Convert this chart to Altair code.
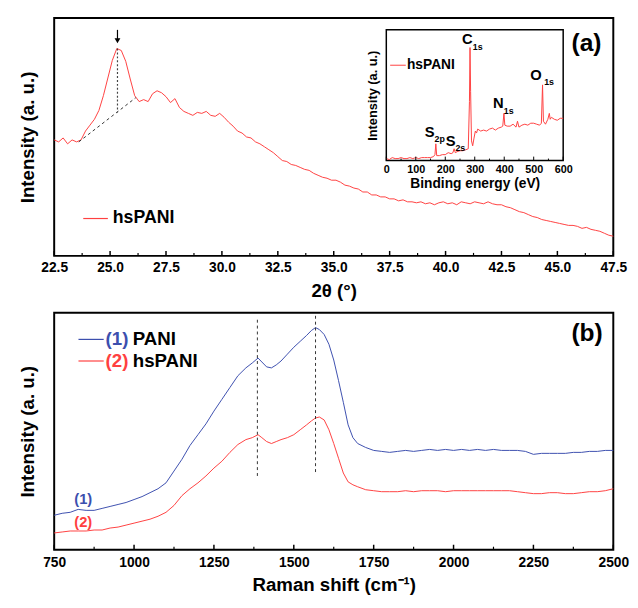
import altair as alt
import pandas as pd

FONT = "Liberation Sans"
RED = "#ff4040"
BLUE = "#3c4fae"
W, H1, H2 = 569, 242, 241

# ---------------- (a) XRD main curve ----------------
xrd_2theta = [22.5, 22.7, 22.9, 23.1, 23.3, 23.5, 23.7, 23.9, 24.1, 24.3, 24.5, 24.7, 24.9,
              25.1, 25.3, 25.5, 25.7, 25.9, 26.1, 26.3, 26.5, 26.7, 26.9, 27.1, 27.3, 27.5,
              27.7, 27.9, 28.1, 28.3, 28.5, 28.7, 28.9, 29.1, 29.3, 29.5, 29.7, 29.9, 30.1,
              30.3, 30.5, 30.7, 30.9, 31.1, 31.3, 31.5, 31.7, 31.9, 32.1, 32.3, 32.5, 32.7,
              32.9, 33.1, 33.3, 33.5, 33.7, 33.9, 34.1, 34.3, 34.5, 34.7, 34.9, 35.1, 35.3,
              35.5, 35.7, 35.9, 36.1, 36.3, 36.5, 36.7, 36.9, 37.1, 37.3, 37.5, 37.7, 37.9,
              38.1, 38.3, 38.5, 38.7, 38.9, 39.1, 39.3, 39.5, 39.7, 39.9, 40.1, 40.3, 40.5,
              40.7, 40.9, 41.1, 41.3, 41.5, 41.7, 41.9, 42.1, 42.3, 42.5, 42.7, 42.9, 43.1,
              43.3, 43.5, 43.7, 43.9, 44.1, 44.3, 44.5, 44.7, 44.9, 45.1, 45.3, 45.5, 45.7,
              45.9, 46.1, 46.3, 46.5, 46.7, 46.9, 47.1, 47.3, 47.5]
xrd_intensity = [118, 116, 120, 114, 118, 116, 118, 127, 133, 139, 148, 163, 181,
                 199, 211, 209, 198, 180, 163, 157, 159, 157, 165, 168, 166, 162,
                 156, 160, 151, 147, 145, 143, 146, 145, 147, 143, 142, 145, 141,
                 136, 132, 127, 125, 121, 120, 116, 114, 111, 108, 105, 101, 97,
                 96, 93, 92, 90, 88, 87, 84, 82, 80, 79, 77, 77, 75,
                 72, 71, 69, 68, 65, 65, 62, 62, 60, 60, 58, 58, 56,
                 57, 55, 55, 54, 55, 53, 54, 52, 54, 55, 53, 54, 52,
                 55, 54, 53, 55, 54, 53, 55, 53, 52, 52, 50, 49, 47,
                 45, 44, 42, 40, 39, 37, 36, 35, 34, 33, 32, 31, 31,
                 30, 28, 29, 27, 26, 25, 23, 21, 20]

# baseline under the 25.3 deg peak and the peak marker
base_2theta = [23.6, 26.15]
base_intensity = [116, 161]
peak_2theta = [25.33]
peak_top = [211]
peak_base = [146]
arrow_top = [230]
arrow_tip = [219]

# ---------------- (a) inset XPS survey ----------------
xps_energy = [0, 10, 20, 30, 40, 50, 60, 70, 80, 90, 100, 110, 120, 130, 140, 150, 160,
              165, 168, 171, 180, 190, 200, 210, 220, 226, 230, 234, 240, 250, 260, 270,
              278, 282, 284, 286, 289, 293, 297, 302, 306, 310, 320, 330, 340, 350, 360,
              370, 380, 390, 395, 399, 402, 410, 420, 430, 440, 445, 450, 460, 470, 480,
              490, 500, 510, 520, 526, 530, 533, 540, 548, 553, 556, 560, 570, 580, 590, 600]
xps_intensity = [2, 1, 3, 2, 2, 3, 2, 2, 3, 2, 3, 2, 3, 3, 3, 3, 4,
                 6, 17, 5, 5, 6, 6, 8, 7, 8, 12, 8, 9, 10, 10, 11,
                 12, 60, 115, 70, 20, 15, 22, 30, 28, 32, 30, 31, 30, 32, 33,
                 31, 33, 34, 35, 48, 36, 35, 35, 37, 34, 40, 34, 36, 37, 36,
                 38, 38, 37, 36, 38, 77, 40, 37, 42, 48, 42, 44, 42, 41, 43, 43]

peak_labels = ["C", "O", "N", "S", "S"]
peak_label_ev = [275, 508, 380, 147, 218]
peak_label_i = [124, 87, 58, 29, 20]
peak_subs = ["1s", "1s", "1s", "2p", "2s"]
peak_sub_ev = [310, 552, 415, 181, 251]
peak_sub_i = [116, 80, 50, 22, 13]

# ---------------- (b) Raman ----------------
raman_shift = [750, 775, 800, 825, 850, 875, 900, 925, 950, 975, 1000, 1025, 1050, 1075,
               1100, 1125, 1150, 1175, 1200, 1225, 1250, 1275, 1300, 1325, 1350, 1370,
               1388, 1400, 1415, 1430, 1445, 1460, 1480, 1500, 1520, 1540, 1555, 1568,
               1580, 1595, 1610, 1625, 1640, 1655, 1670, 1685, 1700, 1725, 1750, 1775,
               1800, 1825, 1850, 1875, 1900, 1925, 1950, 1975, 2000, 2025, 2050, 2075,
               2100, 2125, 2150, 2175, 2200, 2225, 2250, 2275, 2300, 2325, 2350, 2375,
               2400, 2425, 2450, 2475, 2500]
raman_pani = [35, 37, 38, 41, 40, 40, 42, 44, 46, 48, 51, 54, 58, 62,
              68, 80, 92, 106, 117, 128, 141, 153, 165, 177, 185, 190,
              195, 191, 186, 185, 188, 192, 199, 206, 212, 218, 223, 226,
              224, 219, 209, 193, 172, 150, 127, 114, 108, 104, 101, 100,
              99, 100, 101, 100, 101, 102, 101, 102, 101, 102, 101, 102,
              101, 102, 101, 101, 101, 100, 97, 98, 98, 98, 98, 99,
              99, 100, 100, 101, 101]
raman_hspani = [17, 18, 19, 19, 19, 20, 20, 22, 23, 25, 27, 29, 31, 34,
                38, 45, 55, 62, 68, 75, 83, 90, 99, 107, 112, 114,
                117, 114, 110, 108, 110, 112, 114, 117, 122, 127, 131, 134,
                135, 132, 122, 108, 93, 78, 69, 66, 64, 61, 60, 59,
                59, 59, 60, 59, 60, 60, 60, 59, 60, 60, 60, 60,
                60, 60, 60, 60, 59, 58, 57, 57, 58, 58, 57, 57,
                58, 59, 59, 60, 62]
band_shift = [1386, 1568]
band_top = [234, 238]
band_bottom = [74, 78]

# ---------------- tick positions ----------------
top_major = [22.5, 25.0, 27.5, 30.0, 32.5, 35.0, 37.5, 40.0, 42.5, 45.0, 47.5]
top_minor = [23.75, 26.25, 28.75, 31.25, 33.75, 36.25, 38.75, 41.25, 43.75, 46.25]
inset_major = [0, 100, 200, 300, 400, 500, 600]
inset_minor = [50, 150, 250, 350, 450, 550]
bot_major = [750, 1000, 1250, 1500, 1750, 2000, 2250, 2500]
bot_minor = [875, 1125, 1375, 1625, 1875, 2125, 2375]

# inset placement inside panel (a), in pixels of that panel
IN_X0, IN_X1, IN_Y0, IN_Y1 = 338, 518, 145, 12

# ================= encodings =================
COMMON = dict(ticks=False, domain=False, grid=False, labelFont=FONT, titleFont=FONT,
              labelFontWeight="bold", titleFontWeight="bold", labelColor="black",
              titleColor="black")

xs_top = alt.Scale(domain=[22.5, 47.5], nice=False, zero=False)
ys_top = alt.Scale(domain=[0, H1], nice=False, zero=False)
ax_top_x = alt.Axis(values=top_major, format=".1f", title="2θ (°)", orient="bottom",
                    labelFontSize=14, titleFontSize=19, labelPadding=5, titlePadding=7,
                    labelFlush=False, **COMMON)
ax_top_y = alt.Axis(title="Intensity (a. u.)", labels=False, orient="left",
                    titleFontSize=19, titlePadding=17, **COMMON)


def XT(f):
    return alt.X(f, type="quantitative", scale=xs_top, axis=ax_top_x)


def YT(f):
    return alt.Y(f, type="quantitative", scale=ys_top, axis=ax_top_y)


xs_in = alt.Scale(domain=[0, 600], range=[IN_X0, IN_X1], nice=False, zero=False)
ys_in = alt.Scale(domain=[0, 133], range=[IN_Y0, IN_Y1], nice=False, zero=False)
ax_in_x = alt.Axis(values=inset_major, format="d", title="Binding energy (eV)", orient="bottom",
                   offset=-(H1 - IN_Y0), labelFontSize=11, titleFontSize=14, labelPadding=3,
                   titlePadding=2, labelFlush=False, **COMMON)
ax_in_y = alt.Axis(title="Intensity (a. u.)", labels=False, orient="left", offset=-IN_X0,
                   titleFontSize=13, titlePadding=7, **COMMON)


def XI(f):
    return alt.X(f, type="quantitative", scale=xs_in, axis=ax_in_x)


def YI(f):
    return alt.Y(f, type="quantitative", scale=ys_in, axis=ax_in_y)


xs_b = alt.Scale(domain=[750, 2500], nice=False, zero=False)
ys_b = alt.Scale(domain=[0, H2], nice=False, zero=False)
ax_b_x = alt.Axis(values=bot_major, format="d", title="Raman shift (cm⁻¹)", orient="bottom",
                  labelFontSize=14, titleFontSize=19, labelPadding=6, titlePadding=7,
                  labelFlush=False, **COMMON)
ax_b_y = alt.Axis(title="Intensity (a. u.)", labels=False, orient="left",
                  titleFontSize=19, titlePadding=17, **COMMON)


def XB(f):
    return alt.X(f, type="quantitative", scale=xs_b, axis=ax_b_x)


def YB(f):
    return alt.Y(f, type="quantitative", scale=ys_b, axis=ax_b_y)


def txt(size, color="black", align="center"):
    return dict(font=FONT, fontWeight="bold", fontSize=size, color=color, align=align,
                baseline="middle")


# ================= panel (a) main =================
xrd = pd.DataFrame({"t": xrd_2theta, "i": xrd_intensity})
main_line = alt.Chart(xrd).mark_line(color=RED, strokeWidth=1).encode(x=XT("t"), y=YT("i"))

base_df = pd.DataFrame({"t": base_2theta, "i": base_intensity})
base_line = alt.Chart(base_df).mark_line(color="#333", strokeWidth=1, strokeDash=[3, 3]).encode(
    x=XT("t"), y=YT("i"))

pk = pd.DataFrame({"t": peak_2theta, "top": peak_top, "bot": peak_base,
                   "a1": arrow_top, "a2": arrow_tip})
peak_drop = alt.Chart(pk).mark_rule(color="#444", strokeWidth=1.2, strokeDash=[2, 2]).encode(
    x=XT("t"), y=YT("top"), y2="bot")
arrow_shaft = alt.Chart(pk).mark_rule(color="black", strokeWidth=1.2).encode(
    x=XT("t"), y=YT("a1"), y2="a2")
arrow_head = alt.Chart(pk).mark_point(shape="triangle-down", filled=True, color="black",
                                      size=35, opacity=1).encode(x=XT("t"), y=YT("a2"))

leg_a = pd.DataFrame({"t": [23.8], "t2": [24.9], "i": [38], "lab": ["hsPANI"], "tx": [25.12]})
leg_a_line = alt.Chart(leg_a).mark_rule(color=RED, strokeWidth=1.2).encode(
    x=XT("t"), x2="t2", y=YT("i"))
leg_a_text = alt.Chart(leg_a).mark_text(**txt(18, align="left")).encode(
    x=XT("tx"), y=YT("i"), text="lab:N")

lab_a = pd.DataFrame({"t": [46.3], "i": [216], "lab": ["(a)"]})
lab_a_text = alt.Chart(lab_a).mark_text(**txt(25)).encode(x=XT("t"), y=YT("i"), text="lab:N")

tmaj = pd.DataFrame({"t": top_major})
tmin = pd.DataFrame({"t": top_minor})
top_tmaj = alt.Chart(tmaj).mark_rule(color="black", strokeWidth=1.5).encode(
    x=XT("t"), y=alt.value(H1), y2=alt.value(H1 - 5))
top_tmin = alt.Chart(tmin).mark_rule(color="black", strokeWidth=1.2).encode(
    x=XT("t"), y=alt.value(H1), y2=alt.value(H1 - 3))

top_main = alt.layer(main_line, base_line, peak_drop, arrow_shaft, arrow_head,
                     leg_a_line, leg_a_text, lab_a_text, top_tmaj, top_tmin)

# ================= panel (a) inset =================
frame_df = pd.DataFrame({"e": [0], "e2": [600], "i": [0], "i2": [133]})
in_frame = alt.Chart(frame_df).mark_rect(fillOpacity=0, stroke="black", strokeWidth=1.5).encode(
    x=XI("e"), x2="e2", y=YI("i"), y2="i2")
xps = pd.DataFrame({"e": xps_energy, "i": xps_intensity})
in_line = alt.Chart(xps).mark_line(color=RED, strokeWidth=1).encode(x=XI("e"), y=YI("i"))

pl = pd.DataFrame({"e": peak_label_ev, "i": peak_label_i, "lab": peak_labels})
ps = pd.DataFrame({"e": peak_sub_ev, "i": peak_sub_i, "lab": peak_subs})
in_pl = alt.Chart(pl).mark_text(**txt(15)).encode(x=XI("e"), y=YI("i"), text="lab:N")
in_ps = alt.Chart(ps).mark_text(**txt(9)).encode(x=XI("e"), y=YI("i"), text="lab:N")

leg_in = pd.DataFrame({"e": [13], "e2": [66], "i": [97], "lab": ["hsPANI"], "ex": [70]})
in_leg_line = alt.Chart(leg_in).mark_rule(color=RED, strokeWidth=1).encode(
    x=XI("e"), x2="e2", y=YI("i"))
in_leg_text = alt.Chart(leg_in).mark_text(**txt(14, align="left")).encode(
    x=XI("ex"), y=YI("i"), text="lab:N")

imaj = pd.DataFrame({"e": inset_major})
imin = pd.DataFrame({"e": inset_minor})
in_tmaj = alt.Chart(imaj).mark_rule(color="black", strokeWidth=1).encode(
    x=XI("e"), y=alt.value(IN_Y0), y2=alt.value(IN_Y0 - 4))
in_tmin = alt.Chart(imin).mark_rule(color="black", strokeWidth=1).encode(
    x=XI("e"), y=alt.value(IN_Y0), y2=alt.value(IN_Y0 - 2))

top_inset = alt.layer(in_frame, in_line, in_pl, in_ps, in_leg_line, in_leg_text, in_tmaj, in_tmin)

top = alt.layer(top_main, top_inset).resolve_scale(x="independent", y="independent").properties(
    width=W, height=H1)

# ================= panel (b) =================
ram = pd.DataFrame({"s": raman_shift + raman_shift,
                    "i": raman_pani + raman_hspani,
                    "series": ["PANI"] * len(raman_shift) + ["hsPANI"] * len(raman_shift)})
col_b = alt.Color("series:N", scale=alt.Scale(domain=["PANI", "hsPANI"], range=[BLUE, RED]),
                  legend=None)
b_lines = alt.Chart(ram).mark_line(strokeWidth=1).encode(x=XB("s"), y=YB("i"), color=col_b)

bands = pd.DataFrame({"s": band_shift, "top": band_top, "bot": band_bottom})
b_bands = alt.Chart(bands).mark_rule(color="#333", strokeWidth=1, strokeDash=[3, 3]).encode(
    x=XB("s"), y=YB("top"), y2="bot")

leg_b = pd.DataFrame({"s": [826, 826], "s2": [905, 905], "i": [214, 192],
                      "num": ["(1)", "(2)"], "name": ["PANI", "hsPANI"],
                      "sn": [911, 911], "sx": [996, 996], "series": ["PANI", "hsPANI"]})
b_leg_line = alt.Chart(leg_b).mark_rule(strokeWidth=1.2).encode(
    x=XB("s"), x2="s2", y=YB("i"), color=col_b)
b_leg_num = alt.Chart(leg_b).mark_text(font=FONT, fontWeight="bold", fontSize=19, align="left",
                                       baseline="middle").encode(
    x=XB("sn"), y=YB("i"), text="num:N", color=col_b)
b_leg_name = alt.Chart(leg_b).mark_text(**txt(19, align="left")).encode(
    x=XB("sx"), y=YB("i"), text="name:N")

cl = pd.DataFrame({"s": [841, 841], "i": [51, 28], "num": ["(1)", "(2)"],
                   "series": ["PANI", "hsPANI"]})
b_curve_lab = alt.Chart(cl).mark_text(font=FONT, fontWeight="bold", fontSize=15,
                                      baseline="middle").encode(
    x=XB("s"), y=YB("i"), text="num:N", color=col_b)

lab_b = pd.DataFrame({"s": [2418], "i": [220], "lab": ["(b)"]})
lab_b_text = alt.Chart(lab_b).mark_text(**txt(25)).encode(x=XB("s"), y=YB("i"), text="lab:N")

bmaj = pd.DataFrame({"s": bot_major})
bmin = pd.DataFrame({"s": bot_minor})
b_tmaj = alt.Chart(bmaj).mark_rule(color="black", strokeWidth=1.5).encode(
    x=XB("s"), y=alt.value(H2), y2=alt.value(H2 - 5))
b_tmin = alt.Chart(bmin).mark_rule(color="black", strokeWidth=1.2).encode(
    x=XB("s"), y=alt.value(H2), y2=alt.value(H2 - 3))

bottom = alt.layer(b_lines, b_bands, b_leg_line, b_leg_num, b_leg_name, b_curve_lab,
                   lab_b_text, b_tmaj, b_tmin).properties(width=W, height=H2)

chart = alt.vconcat(top, bottom, spacing=11).properties(
    padding={"left": 10, "top": 4, "right": 0, "bottom": 0},
    background="white",
).configure_view(stroke="black", strokeWidth=2)

chart.save("out.html", embed_options={"renderer": "svg", "actions": False})
